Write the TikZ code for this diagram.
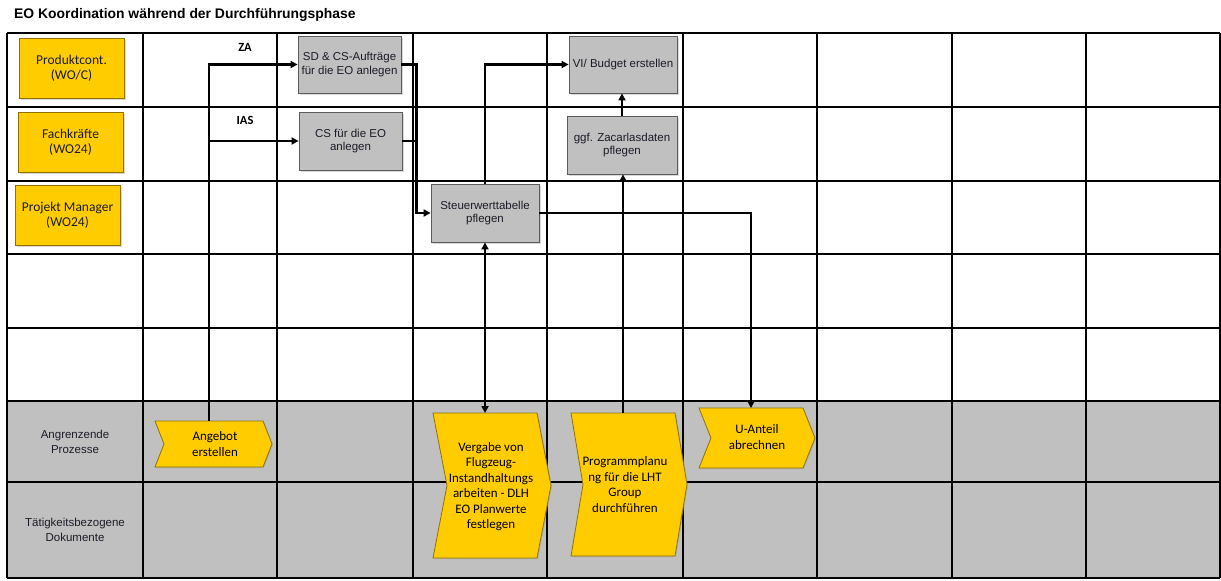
\documentclass[tikz,border=0pt]{standalone}
\usepackage{fontspec}
\setmainfont{Liberation Sans}
\newfontfamily\calfont{Carlito}
\usetikzlibrary{arrows.meta,calc,shadows}

\definecolor{lanegray}{HTML}{C0C0C0}
\definecolor{procgray}{HTML}{C0C0C0}
\definecolor{procedge}{HTML}{5C5C5C}
\definecolor{gold}{HTML}{FFCC00}
\definecolor{goldedge}{HTML}{8F7200}
\definecolor{inktext}{HTML}{1C1C28}

% yellow process-interface chevron drawn around a named body node
\newcommand\chevronshape[2]{%
  \draw[chevshape] (#1.north west) -- (#1.north east) -- ($(#1.east)+(#2,0)$)
    -- (#1.south east) -- (#1.south west) -- ($(#1.west)+(#2,0)$) -- cycle;}

\begin{document}
\begin{tikzpicture}[x=1pt,y=-1pt,
  gridline/.style={line width=1.3pt,black},
  role/.style={draw=goldedge,fill=gold,line width=0.8pt,minimum width=105pt,
    minimum height=60pt,align=center,text=inktext,
    font=\calfont\fontsize{13.5}{15.5}\selectfont,
    drop shadow={shadow xshift=1.5pt,shadow yshift=-1.5pt,opacity=0.3}},
  proc/.style={draw=procedge,fill=procgray,line width=0.8pt,align=center,
    text=inktext,font=\fontsize{11.5}{13.5}\selectfont,inner sep=0pt,
    drop shadow={shadow xshift=1.5pt,shadow yshift=-1.5pt,opacity=0.3}},
  chevbody/.style={inner sep=0pt,outer sep=0pt},
  chevshape/.style={draw=goldedge,fill=gold,line width=0.8pt,
    drop shadow={shadow xshift=1pt,shadow yshift=-1pt,opacity=0.25}},
  chevtext/.style={align=center,text=black,inner sep=0pt,
    font=\calfont\fontsize{13}{15.5}\selectfont},
  lanelabel/.style={align=center,text=inktext,font=\fontsize{11.5}{15}\selectfont},
  sysname/.style={font=\calfont\bfseries\fontsize{12.5}{14}\selectfont},
  flow/.style={line width=2.6pt,-{Triangle[length=7pt,width=7pt]}},
  flowline/.style={line width=2.6pt},
]
\useasboundingbox (0,0) rectangle (1221,581);

% title
\node[anchor=base west,inner sep=0pt,font=\bfseries\fontsize{13.9}{16}\selectfont]
  (title) at (14,18.5) {EO Koordination während der Durchführungsphase};

% swimlane grid
\fill[lanegray] (7,401) rectangle (1220,578);
\foreach \gx in {7,143,277,413,547,683,817,952,1086,1220}
  \draw[gridline] (\gx,33) -- (\gx,578);
\foreach \gy in {33,107,181,254,328,401,482,578}
  \draw[gridline] (7,\gy) -- (1220,\gy);

% roles
\node[role] (rolePC) at (71.5,68) {Produktcont.\\(WO/C)};
\node[role] (roleFK) at (70.5,142) {Fachkräfte\\(WO24)};
\node[role] (rolePM) at (67.5,215) {Projekt Manager\\(WO24)};

% lane labels
\node[lanelabel] (laneAP) at (75,442) {Angrenzende\\Prozesse};
\node[lanelabel] (laneTD) at (75,530) {Tätigkeitsbezogene\\Dokumente};

% system labels
\node[sysname] (sysZA) at (245,47) {ZA};
\node[sysname] (sysIAS) at (245,120) {IAS};

% activities
\node[proc,minimum width=103pt,minimum height=57pt] (sd) at (349.5,64.5)
  {SD \& CS-Aufträge\\für die EO anlegen};
\node[proc,minimum width=103pt,minimum height=58pt] (cs) at (350.5,141)
  {CS für die EO\\anlegen};
\node[proc,minimum width=108pt,minimum height=58pt] (stw) at (485,213)
  {Steuerwerttabelle\\pflegen};
\node[proc,minimum width=108pt,minimum height=57pt] (vi) at (623,64.5)
  {VI/ Budget erstellen};
\node[proc,minimum width=110pt,minimum height=58pt] (zac) at (622,145)
  {ggf. Zacarlasdaten\\pflegen};

% adjacent processes
\node[chevbody,minimum width=108pt,minimum height=46pt] (ang) at (209,444) {};
\chevronshape{ang}{9}
\node[chevtext] (angT) at ([xshift=6pt]ang.center) {Angebot\\erstellen};

\node[chevbody,minimum width=104pt,minimum height=145pt] (verg) at (485,485.5) {};
\chevronshape{verg}{14}
\node[chevtext] (vergT) at ([xshift=6pt,yshift=-1pt]verg.center)
  {Vergabe von\\Flugzeug-\\Instandhaltungs\\arbeiten - DLH\\EO Planwerte\\festlegen};

\node[chevbody,minimum width=104pt,minimum height=143pt] (prog) at (623,484.5) {};
\chevronshape{prog}{12}
\node[chevtext] (progT) at ([xshift=2pt]prog.center)
  {Programmplanu\\ng für die LHT\\Group\\durchführen};

\node[chevbody,minimum width=104pt,minimum height=60pt] (ua) at (751,438) {};
\chevronshape{ua}{12}
\node[chevtext] (uaT) at ([xshift=6pt,yshift=1pt]ua.center) {U-Anteil\\abrechnen};

% flows
\draw[flow] (ang.north) |- (sd.west);
\draw[flow] (ang.north) |- (cs.west);
\draw[flow] (sd.east) -- ++(15,0) |- (stw.west);
\draw[flowline] (cs.east) -- ++(14,0);
\draw[flow] (stw.north) |- (vi.west);
\draw[flow] (stw.east) -| (ua.north);
\draw[flow,{Triangle[length=7pt,width=7pt]}-{Triangle[length=7pt,width=7pt]}]
  (stw.south) -- (verg.north);
\draw[flow] (prog.north) -- (prog.north |- zac.south);
\draw[flow] (zac.north) -- (zac.north |- vi.south);
\end{tikzpicture}
\end{document}
